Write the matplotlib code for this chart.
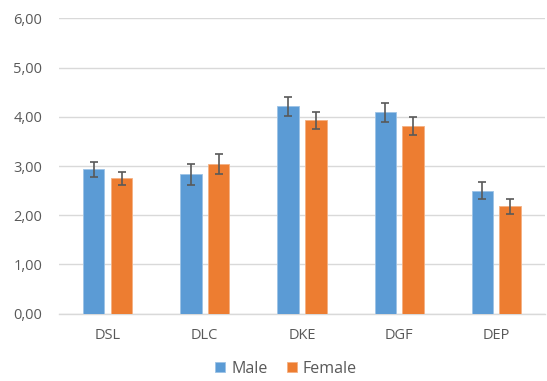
import matplotlib.pyplot as plt
import numpy as np
from matplotlib.ticker import FuncFormatter

categories = ['DSL', 'DLC', 'DKE', 'DGF', 'DEP']
male = [2.93, 2.83, 4.21, 4.09, 2.50]
female = [2.75, 3.04, 3.93, 3.81, 2.18]
male_err = [0.15, 0.21, 0.20, 0.19, 0.18]
female_err = [0.13, 0.20, 0.17, 0.18, 0.15]

plt.rcParams['font.family'] = ['Open Sans', 'DejaVu Sans']

x = np.arange(len(categories))
width = 0.22
off = 0.143

fig = plt.figure(figsize=(5.47, 3.81), dpi=100)
ax = fig.add_axes([0.108, 0.1766, 0.888, 0.7753])

ekw = dict(ecolor='#595959', elinewidth=1.2, capsize=3, capthick=1.2)
ax.bar(x - off, male, width, yerr=male_err, color='#5B9BD5', edgecolor='#9DC3E6',
       linewidth=0.6, label='Male', error_kw=ekw, zorder=3)
ax.bar(x + off, female, width, yerr=female_err, color='#ED7D31', edgecolor='#F4B183',
       linewidth=0.6, label='Female', error_kw=ekw, zorder=3)

ax.set_xlim(-0.5, len(categories) - 0.5)
ax.set_ylim(0, 6)
ax.set_yticks(np.arange(0, 7, 1))
ax.yaxis.set_major_formatter(FuncFormatter(lambda v, p: f'{v:.2f}'.replace('.', ',')))
ax.set_xticks(x, categories)

ax.grid(axis='y', color='#D9D9D9', linewidth=1, zorder=0)
for s in ['top', 'right', 'left']:
    ax.spines[s].set_visible(False)
ax.spines['bottom'].set_color('#D9D9D9')
ax.spines['bottom'].set_linewidth(1)
ax.tick_params(axis='both', length=0, labelsize=10.5, labelcolor='#595959')
ax.tick_params(axis='x', pad=10)
ax.tick_params(axis='y', pad=12)

ax.legend(loc='upper center', bbox_to_anchor=(0.467, -0.11), ncol=2, frameon=False,
          fontsize=11.5, labelcolor='#595959', handlelength=0.65, handleheight=0.65,
          handletextpad=0.35, columnspacing=1.2)

fig.savefig('out.png', dpi=100)
